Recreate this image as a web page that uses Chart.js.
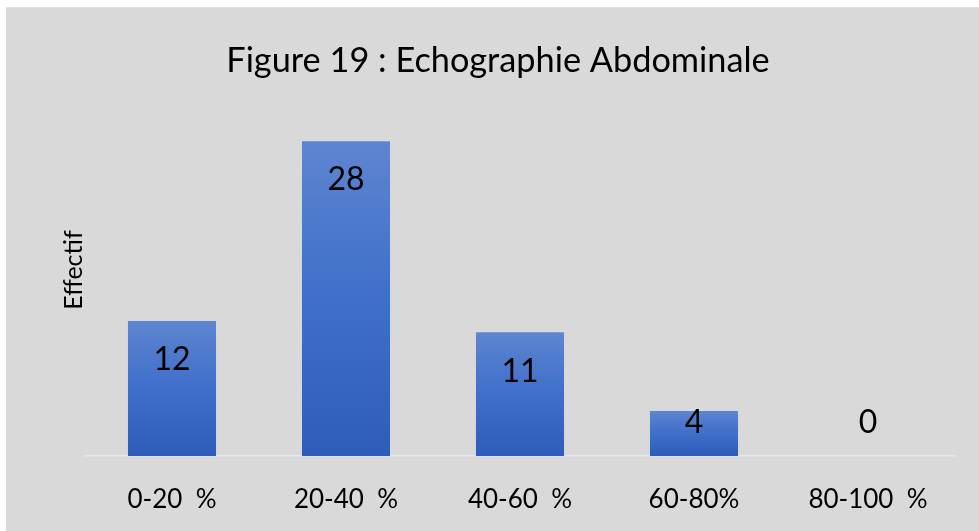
<!DOCTYPE html>
<html lang="fr">
<head>
    <meta charset="UTF-8">
    <title>Figure 19 : Echographie Abdominale</title>
    <script src="https://cdn.jsdelivr.net/npm/chart.js"></script>
    <style>
        html, body { margin: 0; padding: 0; background: #ffffff; }
        .chart-box {
            position: absolute; left: 6px; top: 7px;
            width: 973px; height: 524px;
            background-color: #d9d9d9;
            border-top: 1px solid #dde3ec;
            box-sizing: border-box;
        }
    </style>
</head>
<body>
    <div class="chart-box">
        <canvas id="echoChart" width="973" height="523"></canvas>
    </div>

    <script>
        // donnees
        const categories = ["0-20  %", "20-40  %", "40-60  %", "60-80%", "80-100  %"];
        const effectifs = [12, 28, 11, 4, 0];
        const yMax = 30;

        const fontFamily = "Lato, 'Open Sans', sans-serif";

        function barGradient(ctx) {
            const chart = ctx.chart;
            const area = chart.chartArea;
            if (!area || ctx.type !== 'data') return '#4472c4';
            const yScale = chart.scales.y;
            const top = yScale.getPixelForValue(ctx.raw);
            const bottom = yScale.getPixelForValue(0);
            if (bottom - top < 1) return '#4472c4';
            const g = chart.ctx.createLinearGradient(0, top, 0, bottom);
            g.addColorStop(0, '#5e85d0');
            g.addColorStop(0.5, '#3e6fca');
            g.addColorStop(1, '#2e5db9');
            return g;
        }

        // etiquettes de valeur (interieur, en haut de barre) + titre d'axe
        const valueLabels = {
            id: 'valueLabels',
            afterDatasetsDraw(chart) {
                const c = chart.ctx;
                const meta = chart.getDatasetMeta(0);
                c.save();
                c.font = "32px " + fontFamily;
                c.fillStyle = '#000000';
                c.textAlign = 'center';
                c.textBaseline = 'middle';
                meta.data.forEach((bar, i) => {
                    const y = Math.min(bar.y + 39, bar.base - 33);
                    c.fillText(String(effectifs[i]), bar.x, y);
                });
                // "Effectif" un peu au-dessus du centre de l'axe, comme dans Excel
                c.font = "25px " + fontFamily;
                c.translate(68, 262);
                c.rotate(-Math.PI / 2);
                c.fillText('Effectif', 0, 0);
                c.restore();
            }
        };

        const ctx = document.getElementById('echoChart').getContext('2d');
        new Chart(ctx, {
            type: 'bar',
            data: {
                labels: categories,
                datasets: [{
                    data: effectifs,
                    backgroundColor: barGradient,
                    borderWidth: 0,
                    categoryPercentage: 1,
                    barPercentage: 0.506
                }]
            },
            options: {
                responsive: false,
                animation: false,
                layout: { padding: { left: 35, right: 24, top: 0, bottom: 0 } },
                plugins: {
                    legend: { display: false },
                    tooltip: { enabled: false },
                    title: {
                        display: true,
                        text: 'Figure 19 : Echographie Abdominale',
                        color: '#000000',
                        font: { family: fontFamily, size: 34.3, weight: 'normal' },
                        padding: { top: 32, bottom: 37.5 }
                    }
                },
                scales: {
                    x: {
                        grid: { display: false, drawTicks: false },
                        border: { display: true, color: '#e3e7ef', width: 1.5 },
                        ticks: {
                            color: '#000000',
                            font: { family: fontFamily, size: 26 },
                            padding: 28,
                            maxRotation: 0
                        },
                        afterFit(scale) { scale.height = 75; }
                    },
                    y: {
                        min: 0, max: yMax,
                        grid: { display: false, drawTicks: false },
                        border: { display: false },
                        ticks: { display: false },
                        afterFit(scale) { scale.width = 44; }
                    }
                }
            },
            plugins: [valueLabels]
        });
    </script>
</body>
</html>
